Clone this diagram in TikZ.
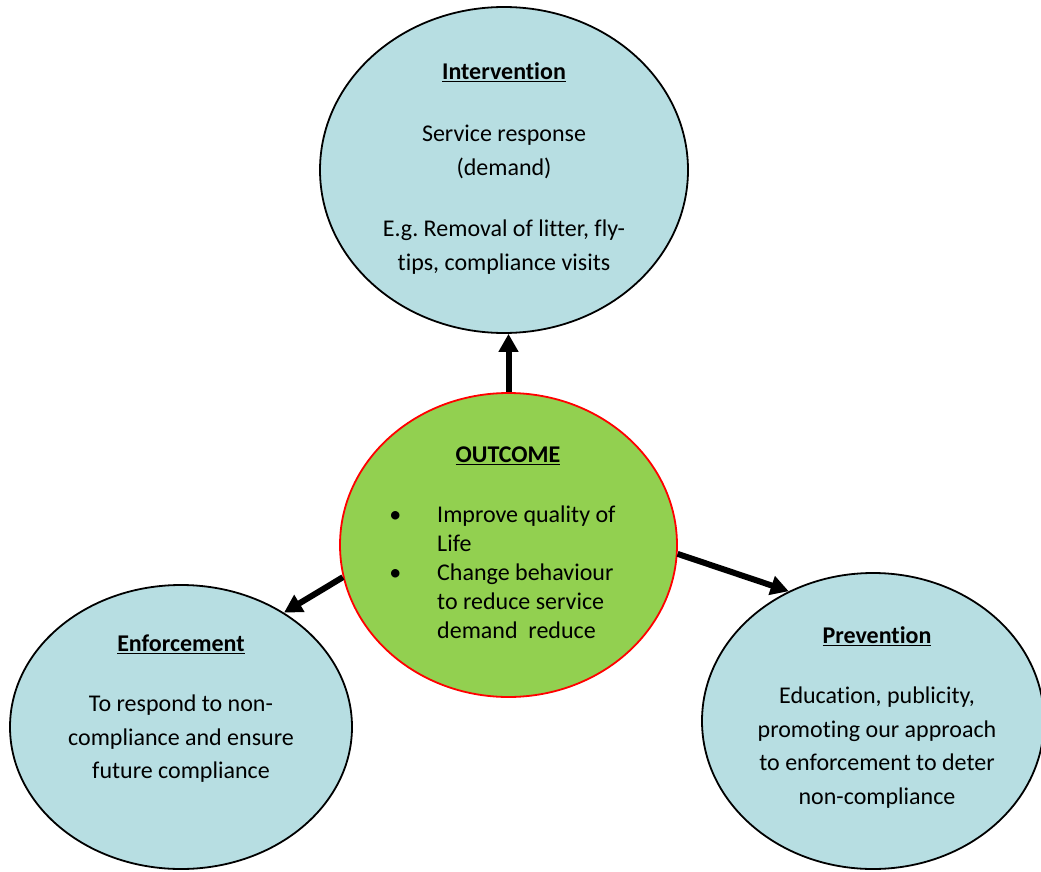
\documentclass[tikz,border=0pt]{standalone}
\usepackage{fontspec}
\setmainfont{Carlito}[Ligatures={NoCommon}]
\usetikzlibrary{shapes.geometric,arrows.meta}
\definecolor{bubbleblue}{RGB}{183,222,226}
\definecolor{hubgreen}{RGB}{146,208,80}
\begin{document}
\begin{tikzpicture}[x=1pt,y=-1pt,
        bubble/.style={ellipse,draw=black,line width=1.8pt,fill=bubbleblue,inner sep=0pt},
        hub/.style={ellipse,draw=red,line width=1.8pt,fill=hubgreen,inner sep=0pt},
        words/.style={anchor=north,inner sep=0pt,align=center,font=\fontsize{24}{33.5}\selectfont},
        push/.style={line width=6pt,-{Triangle[length=18pt,width=19pt]}}]
    \useasboundingbox[fill=white] (0,0) rectangle (1041,872);
    % the four bubbles
    \node[bubble,minimum width=368pt,minimum height=326pt] (intervention) at (504,170) {};
    \node[hub,minimum width=337pt,minimum height=304pt] (outcome) at (508.5,545) {};
    \node[bubble,minimum width=342pt,minimum height=284pt] (enforcement) at (181,727) {};
    \node[bubble,minimum width=342pt,minimum height=296pt] (prevention) at (873,721) {};
    % arrows out of the outcome
    \draw[push] (outcome.north) -- (outcome.north |- intervention.south);
    \draw[push] (outcome.191) -- (enforcement.48);
    \draw[push] (outcome.-3) -- (prevention.123);
    % texts
    \node[words] (interventiontext) at (504,62.5) {\underline{\textbf{Intervention}}\\[28.5pt]Service response\\(demand)\\[28pt]E.g.\ Removal of litter, fly-\\tips, compliance visits};
    \node[words] (outcometitle) at (508,446.5) {\underline{\textbf{OUTCOME}}};
    \node[words,anchor=north west,align=left,font=\fontsize{24}{29}\selectfont] (outcomelist) at (437,506)
        {\llap{\textbullet\hspace{36pt}}Improve quality of\\Life\\\llap{\textbullet\hspace{36pt}}Change behaviour\\to reduce service\\demand\ \ reduce};
    \node[words] (enforcementtext) at (181,635) {\underline{\textbf{Enforcement}}\\[26.5pt]To respond to non-\\compliance and ensure\\future compliance};
    \node[words] (preventiontext) at (877,626.5) {\underline{\textbf{Prevention}}\\[26.5pt]Education, publicity,\\promoting our approach\\to enforcement to deter\\non-compliance};
\end{tikzpicture}
\end{document}
